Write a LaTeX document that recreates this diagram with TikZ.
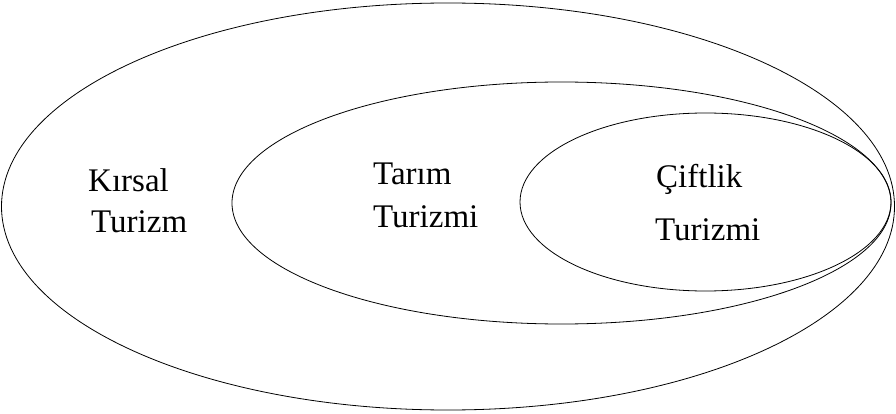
\documentclass[tikz,border=0pt]{standalone}
\usepackage{fontspec}
\setmainfont{Liberation Serif}
\usepackage{tikz}
\usetikzlibrary{positioning}

\begin{document}
\begin{tikzpicture}[x=1pt, y=-1pt, label/.style={inner sep=0pt, anchor=base west, font=\fontsize{33}{38}\selectfont}]
\useasboundingbox (0,0) rectangle (896,414);
% nested sets
\draw [thick] (448,206.5) ellipse [x radius=446.5, y radius=203.5];
\draw [thick] (561.5,203) ellipse [x radius=329.5, y radius=121];
\draw [thick] (705.5,202) ellipse [x radius=185.5, y radius=89];

\node [label] (kirsal) at (88,192) {Kırsal};
\node [label] (kirsal2) at (91,232) {Turizm};

\node [label] (tarim) at (373,185) {Tarım};
\node [label] (tarim2) at (373,227) {Turizmi};

\node [label] (ciftlik) at (656,188) {Çiftlik};
\node [label] (ciftlik2) at (655,240) {Turizmi};

\end{tikzpicture}
\end{document}
